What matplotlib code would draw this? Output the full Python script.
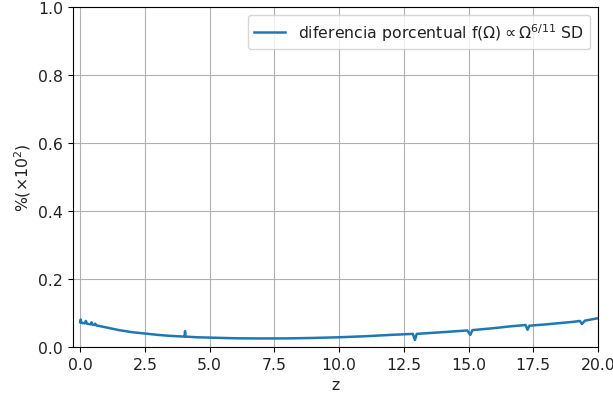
import matplotlib
matplotlib.use("Agg")
import matplotlib.pyplot as plt

z = [0.0, 0.02, 0.04, 0.08, 0.18, 0.22, 0.26, 0.40, 0.44, 0.48, 0.55, 0.58, 0.62,
     1.0, 1.5, 2.0, 2.5, 3.0, 3.5, 4.0, 4.03, 4.05, 4.07, 4.5, 5.0, 6.0, 7.0, 8.0,
     9.0, 10.0, 11.0, 12.0, 12.85, 12.93, 13.0, 14.0, 14.95, 15.07, 15.15, 16.0,
     16.6, 17.2, 17.28, 17.35, 18.0, 19.0, 19.3, 19.38, 19.5, 20.0]
pct = [0.073, 0.081, 0.072, 0.071, 0.070, 0.077, 0.069, 0.067, 0.073, 0.066, 0.065, 0.069, 0.064,
       0.058, 0.050, 0.044, 0.040, 0.036, 0.033, 0.031, 0.031, 0.047, 0.031, 0.029, 0.028, 0.026, 0.0255, 0.0257,
       0.027, 0.029, 0.032, 0.036, 0.039, 0.021, 0.039, 0.044, 0.049, 0.036, 0.050, 0.056,
       0.061, 0.065, 0.051, 0.063, 0.067, 0.074, 0.077, 0.068, 0.078, 0.085]

label = r'diferencia porcentual f($\mathrm{\Omega}$)$\propto\mathrm{\Omega}^{6/11}$ SD'

plt.rcParams['font.size'] = 11.3
plt.rcParams['text.color'] = '#222222'
plt.rcParams['axes.labelcolor'] = '#222222'
plt.rcParams['xtick.labelcolor'] = '#222222'
plt.rcParams['ytick.labelcolor'] = '#222222'

fig = plt.figure(figsize=(6.13, 4.02), dpi=100)
ax = fig.add_axes([0.119, 0.134, 0.8565, 0.846])
ax.plot(z, pct, color='#1f77b4', lw=1.8, label=label)
ax.set_xlim(-0.28, 20)
ax.set_ylim(0, 1.0)
ax.set_xticks([0, 2.5, 5, 7.5, 10, 12.5, 15, 17.5, 20])
ax.grid(True)
ax.set_xlabel('z')
ax.set_ylabel(r'%($\times10^2$)')
ax.legend(loc='upper right')
fig.savefig('out.png', dpi=100)
